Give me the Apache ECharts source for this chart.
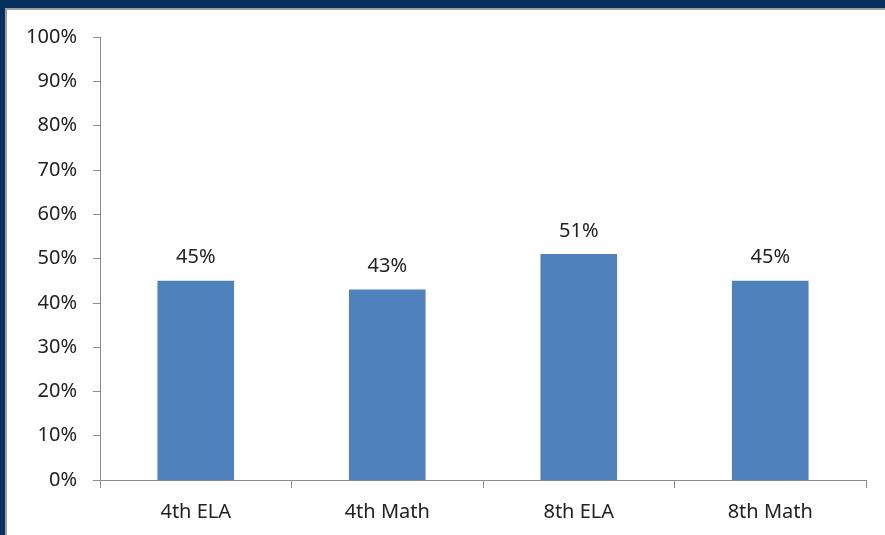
<!DOCTYPE html>
<html>
<head>
<meta charset="utf-8">
<script src="https://cdn.jsdelivr.net/npm/echarts@6/dist/echarts.min.js"></script>
<style>
  html, body { margin: 0; padding: 0; background: #ffffff; }
  #chart { width: 885px; height: 535px; }
</style>
</head>
<body>
<div id="chart"></div>
<script>
// Share of students proficient, by grade and subject
const categories = ['4th ELA', '4th Math', '8th ELA', '8th Math'];
const proficient = [45, 43, 51, 45];
const yTicks = [0, 10, 20, 30, 40, 50, 60, 70, 80, 90, 100];

const textColor = '#222222';
const axisColor = '#8c8c8c';
const fontFamily = '"Noto Sans", "Open Sans", sans-serif';
const fontSize = 20;

const chart = echarts.init(document.getElementById('chart'), null, { renderer: 'canvas' });

chart.setOption({
  animation: false,
  backgroundColor: '#ffffff',
  graphic: [
    // slide frame: navy band along top and left, thin grey inner edge
    { type: 'rect', shape: { x: 0, y: 0, width: 885, height: 8 }, style: { fill: '#06315f' }, z: 100 },
    { type: 'rect', shape: { x: 0, y: 8, width: 885, height: 2 }, style: { fill: '#a0a0a0' }, z: 100 },
    { type: 'rect', shape: { x: 0, y: 0, width: 5, height: 535 }, style: { fill: '#06315f' }, z: 100 },
    { type: 'rect', shape: { x: 5, y: 8, width: 2, height: 527 }, style: { fill: '#a0a0a0' }, z: 100 }
  ],
  grid: { left: 100, right: 19, top: 37, bottom: 55, containLabel: false },
  xAxis: {
    type: 'category',
    data: categories,
    axisLine: { lineStyle: { color: axisColor, width: 1 } },
    axisTick: { show: true, length: 8, lineStyle: { color: axisColor } },
    axisLabel: { color: textColor, fontSize: fontSize, fontFamily: fontFamily, margin: 22 },
    splitLine: { show: false }
  },
  yAxis: {
    type: 'value',
    min: 0,
    max: 100,
    interval: 10,
    axisLine: { show: true, lineStyle: { color: axisColor, width: 1 } },
    axisTick: { show: true, length: 7, lineStyle: { color: axisColor } },
    axisLabel: {
      color: textColor, fontSize: fontSize, fontFamily: fontFamily, margin: 23,
      formatter: function (v) { return yTicks.indexOf(v) >= 0 ? v + '%' : ''; }
    },
    splitLine: { show: false }
  },
  series: [{
    type: 'bar',
    data: proficient,
    barWidth: '40%',
    itemStyle: { color: '#4f81bd' },
    label: {
      show: true,
      position: 'top',
      distance: 13,
      color: textColor,
      fontSize: fontSize,
      fontFamily: fontFamily,
      formatter: function (p) { return p.value + '%'; }
    }
  }]
});
</script>
</body>
</html>
